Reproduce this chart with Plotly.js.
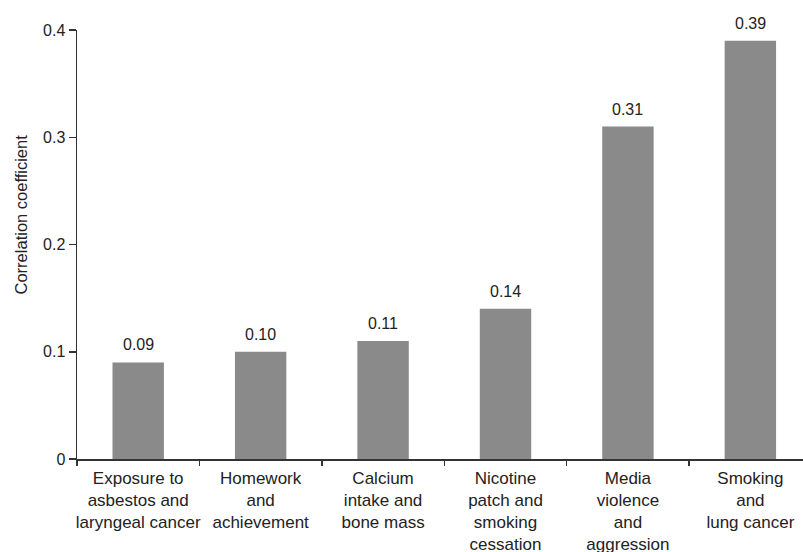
<!DOCTYPE html>
<html>
<head>
<meta charset="utf-8">
<script src="https://cdn.plot.ly/plotly-3.0.1.min.js"></script>
<style>html,body{margin:0;padding:0;background:#fff;overflow:hidden}</style>
</head>
<body>
<div id="chart" style="width:803px;height:552px"></div>
<script>
const categories = [
  "Exposure to<br>asbestos and<br>laryngeal cancer",
  "Homework<br>and<br>achievement",
  "Calcium<br>intake and<br>bone mass",
  "Nicotine<br>patch and<br>smoking<br>cessation",
  "Media<br>violence<br>and<br>aggression",
  "Smoking<br>and<br>lung cancer"
];
const correlations = [0.09, 0.10, 0.11, 0.14, 0.31, 0.39];
const valueLabels = ["0.09", "0.10", "0.11", "0.14", "0.31", "0.39"];
const yTickValues = [0, 0.1, 0.2, 0.3, 0.4];
const yTickLabels = ["0", "0.1", "0.2", "0.3", "0.4"];
const yTitle = "Correlation coefficient";

const fam = "Liberation Sans, Arial, sans-serif";
const ink = "#222";

const trace = {
  type: "bar",
  x: categories,
  y: correlations,
  width: 0.42,
  marker: {color: "#8a8a8a", line: {width: 0}},
  hoverinfo: "x+y"
};

const annotations = categories.map((c, i) => ({
  x: c, y: correlations[i], xref: "x", yref: "y",
  text: valueLabels[i], showarrow: false,
  yanchor: "bottom", yshift: 7,
  font: {family: fam, size: 16, color: ink}
}));
annotations.push({
  xref: "paper", yref: "paper", x: 0, y: 0.57,
  xanchor: "center", yanchor: "middle", xshift: -56,
  text: yTitle, textangle: -90, showarrow: false,
  font: {family: fam, size: 16.5, color: ink}
});

const layout = {
  width: 803, height: 552,
  margin: {l: 77, r: 0, t: 30, b: 93},
  paper_bgcolor: "#fff", plot_bgcolor: "#fff",
  font: {family: fam, size: 16, color: ink},
  showlegend: false,
  xaxis: {
    type: "category",
    range: [-0.5, 5.43],
    showline: true, linecolor: "#333", linewidth: 1.5,
    ticks: "outside", tickson: "boundaries", ticklen: 5, tickcolor: "#333", tickwidth: 1.5,
    tickangle: 0, ticklabelstandoff: 3,
    showgrid: false, zeroline: false,
    tickfont: {family: fam, size: 17, color: ink},
    fixedrange: true
  },
  yaxis: {
    range: [0, 0.4],
    tickvals: yTickValues, ticktext: yTickLabels,
    showline: true, linecolor: "#333", linewidth: 1.5,
    ticks: "outside", ticklen: 7, tickcolor: "#333", tickwidth: 1.5,
    showgrid: false, zeroline: false,
    tickfont: {family: fam, size: 16, color: ink},
    fixedrange: true
  },
  annotations: annotations
};

Plotly.newPlot("chart", [trace], layout, {displayModeBar: false, staticPlot: true});
</script>
</body>
</html>
